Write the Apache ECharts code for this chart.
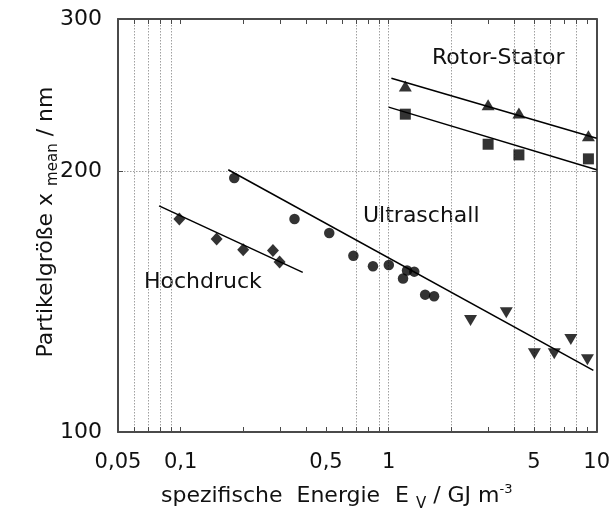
<!DOCTYPE html>
<html>
<head>
<meta charset="utf-8">
<script src="https://cdn.jsdelivr.net/npm/echarts@6/dist/echarts.min.js"></script>
<style>
html,body{margin:0;padding:0;background:#fff;}
#c{width:613px;height:512px;}
</style>
</head>
<body>
<div id="c"></div>
<script>
// ---- data ----
var hdX = [0.0986, 0.149, 0.1999, 0.2779, 0.2991];
var hdY = [176.2, 167.1, 162.4, 162.1, 157.2];
var hdFitX = [0.0788, 0.3865];
var hdFitY = [182.5, 152.9];

var usCircX = [0.1811, 0.3528, 0.5183, 0.6769, 0.8408, 1.002, 1.173, 1.226, 1.328, 1.498, 1.654];
var usCircY = [196.5, 176.2, 169.8, 159.8, 155.4, 155.9, 150.4, 153.7, 153.2, 144.1, 143.5];
var usTriX = [2.476, 3.678, 5.021, 6.255, 7.515, 9.03];
var usTriY = [134.5, 137.3, 123.1, 123.1, 127.9, 121.2];
var usFitX = [0.1694, 9.643];
var usFitY = [200.9, 117.8];

var rsTriX = [1.203, 3.008, 4.23, 9.13];
var rsTriY = [251.1, 238.8, 233.6, 219.9];
var rsSqX = [1.203, 3.008, 4.23, 9.13];
var rsSqY = [232.9, 215.0, 209.0, 206.8];
var rsTriFitX = [1.031, 10];
var rsTriFitY = [256.3, 218.4];
var rsSqFitX = [1.0, 10];
var rsSqFitY = [237.3, 200.9];

var xTickLabels = [0.05, 0.1, 0.5, 1, 5, 10];
var xMinorTicks = [0.05,0.06,0.07,0.08,0.09,0.1,0.2,0.3,0.4,0.5,0.6,0.7,0.8,0.9,1,2,3,4,5,6,7,8,9,10];
var xGridLines = [0.06, 0.07, 0.08, 0.09, 0.7, 0.9, 1, 2, 4, 5, 6, 8];
var yTickLabels = [100, 200, 300];
var yTicks = [200];
var labelNames = ['Rotor-Stator', 'Ultraschall', 'Hochdruck'];

function zip(xs, ys) { return xs.map(function (x, i) { return [x, ys[i]]; }); }

var FONT = 'DejaVu Sans';
var AX = '#4a4a4a';
var GRID = '#a0a0a0';

var chart = echarts.init(document.getElementById('c'), null, {renderer: 'canvas'});

var baseX = {type: 'log', logBase: 10, min: 0.05, max: 10, gridIndex: 0};
var option = {
  animation: false,
  backgroundColor: '#fff',
  grid: {left: 118, right: 12, top: 19, bottom: 80, containLabel: false},
  xAxis: [
    Object.assign({}, baseX, {
      position: 'bottom',
      axisLine: {show: true, lineStyle: {color: AX, width: 2}},
      axisTick: {show: true, inside: true, length: 5, customValues: xMinorTicks, lineStyle: {color: AX, width: 1}},
      axisLabel: {show: true, customValues: xTickLabels, margin: 20, color: '#111', fontFamily: FONT, fontSize: 21,
        formatter: function (v) { return String(+(+v).toPrecision(6)).replace('.', ','); }},
      splitLine: {show: false}
    }),
    Object.assign({}, baseX, {
      position: 'top',
      axisLine: {show: true, lineStyle: {color: AX, width: 2}},
      axisTick: {show: true, inside: true, length: 5, customValues: xMinorTicks, lineStyle: {color: AX, width: 1}},
      axisLabel: {show: false},
      splitLine: {show: false}
    }),
    Object.assign({}, baseX, {
      position: 'bottom',
      axisLine: {show: false},
      axisTick: {show: false, customValues: xGridLines},
      axisLabel: {show: false},
      splitLine: {show: true, lineStyle: {color: GRID, width: 1, type: [1.5, 1.5]}}
    })
  ],
  yAxis: [
    {
      type: 'log', logBase: 10, min: 100, max: 300, position: 'left',
      axisLine: {show: true, lineStyle: {color: AX, width: 2}},
      axisTick: {show: true, inside: true, length: 5, customValues: yTicks, lineStyle: {color: AX, width: 1}},
      axisLabel: {show: true, customValues: yTickLabels, margin: 16, color: '#111', fontFamily: FONT, fontSize: 22},
      splitLine: {show: true, lineStyle: {color: GRID, width: 1, type: [1.5, 1.5]}}
    },
    {
      type: 'log', logBase: 10, min: 100, max: 300, position: 'right',
      axisLine: {show: true, lineStyle: {color: AX, width: 2}},
      axisTick: {show: true, inside: true, length: 5, customValues: yTicks, lineStyle: {color: AX, width: 1}},
      axisLabel: {show: false},
      splitLine: {show: false}
    }
  ],
  series: [
    {type: 'scatter', name: 'Hochdruck', data: zip(hdX, hdY), symbol: 'diamond', symbolSize: [12, 13], itemStyle: {color: '#000'}},
    {type: 'line', data: zip(hdFitX, hdFitY), symbol: 'none', lineStyle: {color: '#000', width: 1.5}},
    {type: 'scatter', name: 'Ultraschall', data: zip(usCircX, usCircY), symbol: 'circle', symbolSize: 10.5, itemStyle: {color: '#000'}},
    {type: 'scatter', name: 'Ultraschall2', data: zip(usTriX, usTriY), symbol: 'triangle', symbolRotate: 180, symbolSize: [13, 11], itemStyle: {color: '#000'}},
    {type: 'line', data: zip(usFitX, usFitY), symbol: 'none', lineStyle: {color: '#000', width: 1.5}},
    {type: 'scatter', name: 'RS1', data: zip(rsTriX, rsTriY), symbol: 'triangle', symbolSize: [13, 11], itemStyle: {color: '#000'}},
    {type: 'scatter', name: 'RS2', data: zip(rsSqX, rsSqY), symbol: 'rect', symbolSize: 11, itemStyle: {color: '#000'}},
    {type: 'line', data: zip(rsTriFitX, rsTriFitY), symbol: 'none', lineStyle: {color: '#000', width: 1.5}},
    {type: 'line', data: zip(rsSqFitX, rsSqFitY), symbol: 'none', lineStyle: {color: '#000', width: 1.5}}
  ],
  graphic: [
    {type: 'text', left: 432, top: 47, style: {text: labelNames[0], font: '22px "DejaVu Sans"', fill: '#111'}},
    {type: 'text', left: 363, top: 205, style: {text: labelNames[1], font: '22px "DejaVu Sans"', fill: '#111'}},
    {type: 'text', left: 144, top: 271, style: {text: labelNames[2], font: '22px "DejaVu Sans"', fill: '#111'}},
    {type: 'text', x: 161, y: 496,
      style: {text: 'spezifische  Energie', font: '22px "DejaVu Sans"', fill: '#111', align: 'left', verticalAlign: 'middle'}},
    {type: 'text', x: 395, y: 496,
      style: {text: '{n|E }{s|V}{n| / GJ m}{p|-3}', fill: '#111', align: 'left', verticalAlign: 'middle',
        rich: {
          n: {fontFamily: FONT, fontSize: 22, color: '#111'},
          s: {fontFamily: FONT, fontSize: 15, color: '#111', padding: [16, 0, 0, 0]},
          p: {fontFamily: FONT, fontSize: 13, color: '#111', padding: [0, 0, 12, 0]}
        }}},
    {type: 'text', x: 46, y: 222, rotation: Math.PI / 2,
      style: {text: '{n|Partikelgröße x }{s|mean}{n| / nm}', align: 'center', verticalAlign: 'middle', fill: '#111',
        rich: {
          n: {fontFamily: FONT, fontSize: 22, color: '#111'},
          s: {fontFamily: FONT, fontSize: 15, color: '#111', padding: [14, 0, 0, 0]}
        }}}
  ]
};
chart.setOption(option);
</script>
</body>
</html>
